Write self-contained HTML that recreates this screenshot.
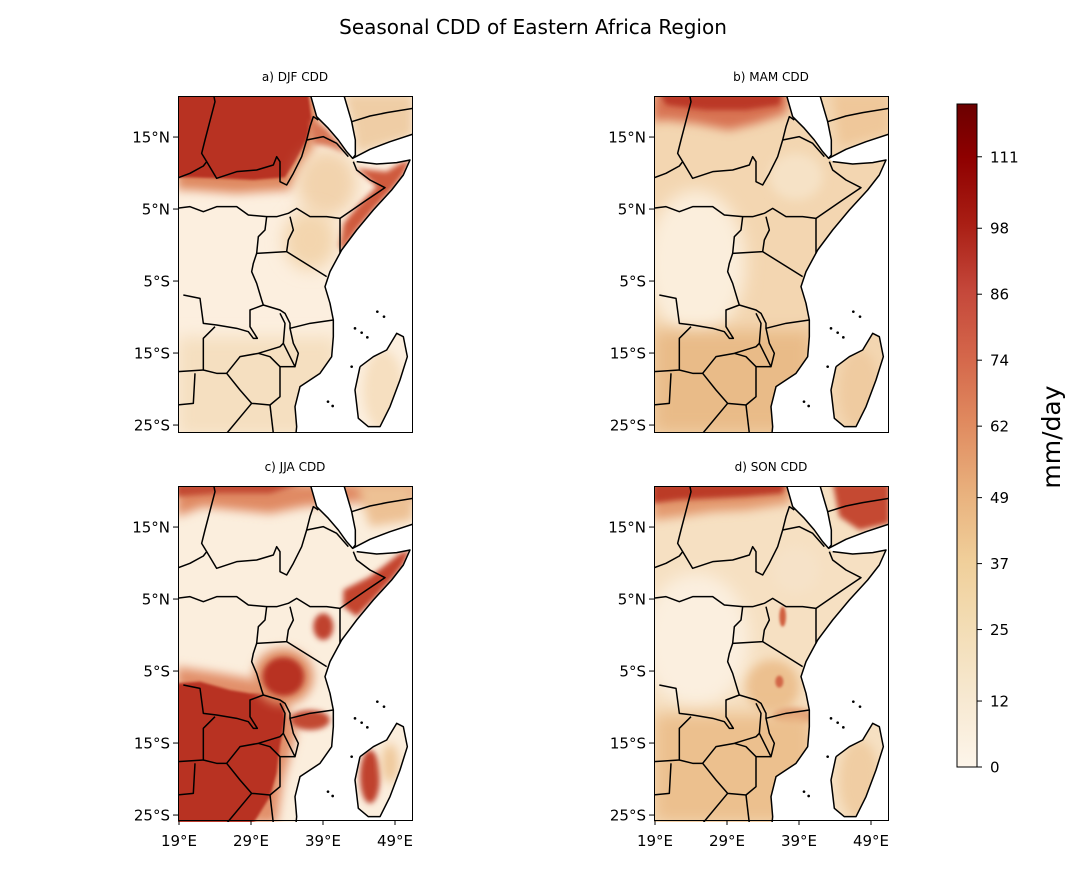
<!DOCTYPE html>
<html><head><meta charset="utf-8">
<style>
html,body{margin:0;padding:0;background:#fff;}
svg text{font-family:"DejaVu Sans","Liberation Sans",sans-serif;}
</style></head>
<body>
<svg id="fig" xmlns="http://www.w3.org/2000/svg" width="1065" height="878" viewBox="0 0 1065 878">
<defs>
<linearGradient id="cbgrad" x1="0" y1="1" x2="0" y2="0">
<stop offset="0" stop-color="#fdf5ea"/>
<stop offset="0.10" stop-color="#f7e9d2"/>
<stop offset="0.21" stop-color="#f3ddb5"/>
<stop offset="0.31" stop-color="#f0cf9a"/>
<stop offset="0.41" stop-color="#e9b27e"/>
<stop offset="0.52" stop-color="#e08a5f"/>
<stop offset="0.62" stop-color="#d4664a"/>
<stop offset="0.72" stop-color="#c4473a"/>
<stop offset="0.82" stop-color="#a91e14"/>
<stop offset="0.92" stop-color="#8e0000"/>
<stop offset="1" stop-color="#6b0000"/>
</linearGradient>
<filter id="b4" x="-50%" y="-50%" width="200%" height="200%"><feGaussianBlur stdDeviation="4"/></filter>
<filter id="b8" x="-50%" y="-50%" width="200%" height="200%"><feGaussianBlur stdDeviation="8"/></filter>
<filter id="b15" x="-50%" y="-50%" width="200%" height="200%"><feGaussianBlur stdDeviation="15"/></filter>
<filter id="b25" x="-50%" y="-50%" width="200%" height="200%"><feGaussianBlur stdDeviation="25"/></filter>
<clipPath id="pclip"><rect x="24" y="18" width="702" height="1008"/></clipPath>
</defs>
<text x="533" y="34" font-size="20" text-anchor="middle">Seasonal CDD of Eastern Africa Region</text>
<g id="panels"></g>
<g id="colorbar"></g>
<text x="1060" y="437" font-size="25" text-anchor="middle" transform="rotate(-90 1060 437)">mm/day</text>
</svg>
<script>
const NS="http://www.w3.org/2000/svg";
const colorbarTicks=[0,12,25,37,49,62,74,86,98,111];
const colorbarMax=120.6;
const latTicks=[15,5,-5,-15,-25];
const latLabels=["15°N","5°N","5°S","15°S","25°S"];
const lonTicks=[19,29,39,49];
const lonLabels=["19°E","29°E","39°E","49°E"];
const panelTitles=["a) DJF CDD","b) MAM CDD","c) JJA CDD","d) SON CDD"];

const svg=document.getElementById('fig');
const panelsG=document.getElementById('panels');
function el(t,a,p){const e=document.createElementNS(NS,t);for(const k in a)e.setAttribute(k,a[k]);(p||svg).appendChild(e);return e;}
function P(a){return a.map(p=>p.join(',')).join(' ');}

const redSea=[[420,10],[440,80],[475,115],[505,150],[530,185],[548,205],[556,195],[556,150],[545,95],[520,10]];
const indian=[[548,205],[600,178],[660,155],[730,132],[730,1030],[378,1030],[380,1010],[375,950],[390,890],[450,850],[485,800],[490,740],[490,690],[480,640],[465,590],[480,545],[515,480],[560,420],[610,360],[665,300],[700,255],[720,210],[680,218],[620,222],[560,215]];
const madag=[[570,830],[610,800],[650,780],[680,730],[700,740],[712,800],[690,870],[660,950],[630,1010],[595,1010],[565,985],[555,900]];
const coastA=[[560,215],[620,222],[680,218],[720,210],[700,255],[665,300],[610,360],[560,420],[515,480],[480,545],[465,590],[480,640],[490,690],[490,740],[485,800],[450,850],[390,890],[375,950],[380,1010],[378,1030]];
const coastB=[[548,205],[600,178],[660,155],[730,132]];
const borders=[
[[130,10],[135,35],[105,150],[95,190],[110,215],[100,228],[60,250],[20,265]],
[[110,215],[140,265],[200,245],[260,240],[310,225],[320,200],[330,215],[330,275],[350,285],[370,250],[395,200],[410,150],[420,110],[430,80],[445,90]],
[[410,150],[460,140],[500,160],[535,200]],
[[20,355],[60,350],[100,365],[140,350],[200,350],[235,375],[290,380],[320,380],[355,370],[380,355],[420,380],[470,380],[510,385]],
[[510,385],[590,330],[645,293],[600,270],[560,240],[550,215]],
[[510,385],[510,490]],
[[290,380],[285,420],[265,440],[260,490],[350,485],[355,450],[370,420],[360,380]],
[[350,485],[470,560]],
[[260,490],[250,520],[245,545],[260,580],[275,630],[280,645],[330,660],[345,670],[360,700],[360,715],[420,700],[490,690]],
[[40,615],[90,625],[100,700],[140,705],[200,715],[235,725],[250,745],[262,745],[240,710],[240,660],[280,645]],
[[330,670],[345,700],[340,760],[360,800],[375,830],[385,790],[370,760],[360,715]],
[[135,710],[100,745],[100,840],[140,850],[170,850],[210,800],[265,790],[330,770],[340,760]],
[[170,850],[210,900],[245,940],[300,945],[330,920],[330,830],[300,800],[265,790]],
[[300,945],[310,1030]],[[330,830],[375,830]],
[[20,845],[100,840]],[[75,850],[70,940],[20,945]],[[170,1030],[245,940]],
[[545,95],[600,78],[650,68],[730,55]]
];
const islands=[[555,715],[575,728],[592,742],[622,665],[642,680],[488,948],[474,935],[545,830]];

const panelBase=["#fcefdf","#f3d6b1","#fbeedd","#f6e0c2"];
const blobs=[
[ // a
 ['poly',[[20,10],[440,10],[450,100],[430,180],[390,240],[360,300],[200,310],[60,300],[20,300]],'#df8a62','b15'],
 ['poly',[[20,10],[415,10],[425,90],[410,150],[375,215],[345,262],[250,270],[150,265],[60,262],[20,262]],'#b83223','b4'],
 ['ell',[470,280,90,100],'#f2d3ad','b25'],
 ['poly',[[420,90],[470,115],[530,190],[480,170],[430,160]],'#d87756','b8'],
 ['poly',[[520,10],[730,10],[730,140],[560,190],[545,100]],'#efcda5','b15'],
 ['poly',[[560,235],[650,245],[690,220],[720,210],[700,255],[665,300],[610,360],[560,420],[520,480],[505,470],[520,400],[570,340],[620,290]],'#cf5a3c','b8'],
 ['ell',[420,450,80,90],'#f3d5ae','b25'],
 ['rect',[20,740,480,300],'#f5dfc0','b25'],
 ['ell',[640,900,60,120],'#f6dfc0','b15']
],
[ // b
 ['ell',[150,520,150,220],'#fbeedc','b25'],
 ['ell',[450,260,80,70],'#f6e2c6','b15'],
 ['poly',[[20,10],[430,10],[420,70],[330,100],[250,120],[150,100],[60,90],[20,95]],'#d87352','b15'],
 ['poly',[[40,10],[410,10],[400,45],[300,60],[180,60],[60,45]],'#bb3727','b8'],
 ['rect',[20,720,480,310],'#e9bb88','b25'],
 ['poly',[[560,10],[730,10],[730,130],[580,170]],'#efc79a','b15'],
 ['ell',[640,900,60,120],'#efcba0','b15']
],
[ // c
 ['poly',[[20,10],[730,10],[730,60],[500,70],[400,80],[300,100],[200,90],[100,80],[20,110]],'#e08a64','b15'],
 ['poly',[[20,10],[400,10],[300,40],[150,40],[20,50]],'#c24a33','b8'],
 ['poly',[[560,10],[730,10],[730,120],[600,140]],'#edc194','b15'],
 ['poly',[[20,560],[150,580],[260,600],[340,640],[380,760],[340,900],[320,1030],[20,1030]],'#e2906a','b15'],
 ['poly',[[20,610],[90,605],[180,630],[240,640],[300,640],[340,660],[345,720],[330,800],[320,880],[300,950],[250,1030],[20,1030]],'#b83223','b4'],
 ['ell',[340,590,90,85],'#e09068','b15'],
 ['ell',[340,590,62,58],'#b83223','b8'],
 ['ell',[420,720,60,30],'#c24a33','b8'],
 ['ell',[460,440,30,40],'#c0432f','b8'],
 ['poly',[[520,330],[600,290],[690,220],[720,210],[700,255],[665,300],[610,360],[560,410],[520,380]],'#c4442f','b8'],
 ['ell',[600,890,30,80],'#c0432f','b8'],
 ['ell',[660,850,25,60],'#efc89a','b15']
],
[ // d
 ['ell',[150,480,160,200],'#fbefdf','b25'],
 ['ell',[450,270,70,70],'#f6e2c8','b15'],
 ['poly',[[20,10],[440,10],[430,70],[300,90],[200,95],[100,110],[20,120]],'#e3996e','b15'],
 ['poly',[[20,10],[420,10],[410,40],[300,50],[200,55],[100,60],[20,70]],'#bb3a27','b8'],
 ['poly',[[560,10],[730,10],[730,130],[640,150],[580,110]],'#c54a33','b8'],
 ['ell',[380,620,80,80],'#ecc08f','b15'],
 ['ell',[400,605,12,18],'#d26647','b4'],
 ['ell',[410,410,10,30],'#d0603f','b4'],
 ['ell',[440,710,60,25],'#dc8a62','b8'],
 ['rect',[20,700,480,330],'#ecc08e','b25'],
 ['ell',[640,900,60,120],'#f0cda3','b15']
]];

const px=[178,654,178,654], py=[96,96,486,486], pw=234, ph=[336,336,334,334];
function yLat(i,lat){return py[i]+(20.7-lat)*7.2;}
function xLon(i,lon){return px[i]+1+(lon-19)*7.2;}

for(let i=0;i<4;i++){
  const g=el('g',{},panelsG);
  
  
  const t=el('text',{x:px[i]+pw/2,y:py[i]-15,'font-size':12,'text-anchor':'middle'},g);
  t.textContent=panelTitles[i];
  
  
  const inner=el('g',{transform:`translate(${px[i]-8},${py[i]-6}) scale(0.33333)`},g);
  const cg=el('g',{'clip-path':'url(#pclip)'},inner);
  const base=el('rect',{x:24,y:18,width:702,height:1008,fill:panelBase[i]},cg);
  
  
  blobs[i].forEach(b=>{
    let e;
    if(b[0]==='poly') e=el('polygon',{points:P(b[1]),fill:b[2],filter:'url(#'+b[3]+')'},cg);
    else if(b[0]==='ell') e=el('ellipse',{cx:b[1][0],cy:b[1][1],rx:b[1][2],ry:b[1][3],fill:b[2],filter:'url(#'+b[3]+')'},cg);
    else e=el('rect',{x:b[1][0],y:b[1][1],width:b[1][2],height:b[1][3],fill:b[2],filter:'url(#'+b[3]+')'},cg);
    
    
  });
  const d='M'+redSea.map(p=>p.join(',')).join('L')+'Z M'+indian.map(p=>p.join(',')).join('L')+'Z M'+madag.map(p=>p.join(',')).join('L')+'Z';
  const oc=el('path',{d:d,fill:'#fff','fill-rule':'evenodd'},cg);
  
  
  const lines=[redSea,coastA,coastB,madag.concat([madag[0]])].concat(borders);
  lines.forEach(l=>{
    const e=el('polyline',{points:P(l),fill:'none',stroke:'#000','stroke-width':4.5,'stroke-linejoin':'round'},cg);
    
    
  });
  islands.forEach(p=>{const e=el('circle',{cx:p[0],cy:p[1],r:4,fill:'#000'},cg);
    
    });
  const fr=el('rect',{x:px[i]+0.5,y:py[i]+0.5,width:pw,height:ph[i],fill:'none',stroke:'#000','stroke-width':1},g);
  
  
  latTicks.forEach((lat,k)=>{
    const y=yLat(i,lat);
    el('line',{x1:px[i]-5,x2:px[i],y1:y,y2:y,stroke:'#000'},g);
    const tx=el('text',{x:px[i]-8,y:y+5.5,'font-size':15,'text-anchor':'end'},g);
    tx.textContent=latLabels[k];
    
    
  });
  if(i>=2){
    lonTicks.forEach((lon,k)=>{
      const x=xLon(i,lon), y=py[i]+ph[i];
      el('line',{x1:x,x2:x,y1:y,y2:y+5,stroke:'#000'},g);
      const tx=el('text',{x:x,y:y+26,'font-size':15,'text-anchor':'middle'},g);
      tx.textContent=lonLabels[k];
      
      
    });
  }
}
const cb=document.getElementById('colorbar');
const cbx=957,cbw=20,cbBot=767,cbTop=104;
function yVal(v){return cbBot-(v/colorbarMax)*(cbBot-cbTop);}
el('rect',{x:cbx,y:cbTop,width:cbw,height:cbBot-cbTop,fill:'url(#cbgrad)',stroke:'#000','stroke-width':1},cb);
colorbarTicks.forEach(v=>{
  const y=yVal(v);
  el('line',{x1:cbx+cbw,x2:cbx+cbw+5,y1:y,y2:y,stroke:'#000'},cb);
  const t=el('text',{x:cbx+cbw+13,y:y+5.5,'font-size':15},cb);
  t.textContent=String(v);
  
  
});
</script>
</body></html>
